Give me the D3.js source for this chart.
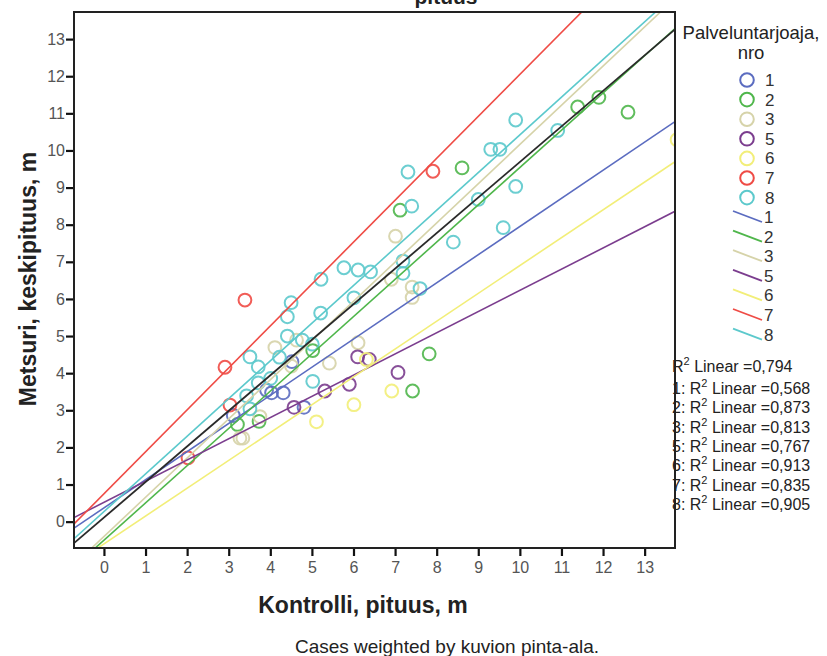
<!DOCTYPE html>
<html>
<head>
<meta charset="utf-8">
<script src="https://cdn.jsdelivr.net/npm/d3@7"></script>
<style>
  body { margin: 0; background: #fff; }
  svg { display: block; font-family: "Liberation Sans", Arial, sans-serif; }
</style>
</head>
<body>
<div id="main-container"></div>
<script>
// groups (Palveluntarjoaja, nro) and their colours
var groups = ["1", "2", "3", "5", "6", "7", "8"];
var colors = ["#5b6cc0", "#4fb64b", "#d6d3a9", "#7b3d8e", "#f2ee78", "#ef4b45", "#5cc9cc"];

// observed points: Kontrolli (x) and Metsuri (y) per group
var kontrolli = {
    "1": [4.52, 3.91, 4.03, 4.31, 3.11, 4.81],
    "2": [11.39, 11.90, 12.60, 8.61, 7.12, 5.02, 7.82, 7.42, 3.21, 3.73],
    "3": [7.01, 6.91, 7.41, 7.41, 6.11, 4.11, 4.63, 5.42, 4.51, 3.27, 3.34, 3.75],
    "5": [6.10, 6.38, 7.07, 5.90, 5.31, 4.57],
    "6": [6.01, 6.92, 5.11, 6.31, 13.78],
    "7": [3.39, 2.91, 3.03, 2.02, 7.91],
    "8": [9.90, 9.30, 9.52, 10.91, 7.31, 7.40, 9.90, 9.00, 9.60, 8.40, 7.19, 7.19, 7.60,
          5.77, 6.11, 6.41, 5.22, 6.01, 4.50, 4.41, 5.21, 4.41, 4.77, 5.01, 3.51, 3.71,
          4.22, 4.01, 3.71, 3.43, 3.51, 5.02]
};
var metsuri = {
    "1": [4.31, 3.54, 3.47, 3.47, 2.86, 3.08],
    "2": [11.17, 11.43, 11.03, 9.53, 8.39, 4.61, 4.52, 3.52, 2.62, 2.70],
    "3": [7.69, 6.53, 6.32, 6.04, 4.82, 4.69, 4.89, 4.27, 4.19, 2.25, 2.25, 2.83],
    "5": [4.44, 4.37, 4.02, 3.70, 3.52, 3.08],
    "6": [3.15, 3.52, 2.69, 4.37, 10.29],
    "7": [5.97, 4.16, 3.14, 1.72, 9.44],
    "8": [10.82, 10.03, 10.03, 10.54, 9.42, 8.50, 9.03, 8.68, 7.92, 7.53, 7.02, 6.69, 6.28,
          6.84, 6.78, 6.73, 6.53, 6.03, 5.90, 5.52, 5.62, 5.00, 4.89, 4.78, 4.44, 4.17,
          4.43, 3.86, 3.74, 3.39, 3.04, 3.78]
};

// linear fits (intercept, slope)
var fitIntercept = [0.37, -0.50, -0.40, 0.52, -0.60, 0.75, 0.27];
var fitSlope     = [0.758, 1.004, 1.056, 0.571, 0.750, 1.13, 1.015];
var totalFit = { intercept: 0.11, slope: 0.958, r2: "0,794" };
var r2Values = ["0,568", "0,873", "0,813", "0,767", "0,913", "0,835", "0,905"];

var xTicks = d3.range(0, 14);
var yTicks = d3.range(0, 14);

var width = 827, height = 656;
var plot = { left: 74, right: 675, top: 12, bottom: 548 };

var svg = d3.select("#main-container").append("svg")
    .attr("width", width)
    .attr("height", height);

var x = d3.scaleLinear().domain([-0.72, 13.73]).range([plot.left, plot.right]);
var y = d3.scaleLinear().domain([-0.71, 13.73]).range([plot.bottom, plot.top]);

svg.append("clipPath").attr("id", "plotclip")
    .append("rect")
    .attr("x", plot.left).attr("y", plot.top)
    .attr("width", plot.right - plot.left).attr("height", plot.bottom - plot.top);

// title, cut off at the top as in the original
svg.append("text")
    .attr("x", 446).attr("y", 4)
    .attr("text-anchor", "middle")
    .attr("font-size", "21px").attr("font-weight", "bold")
    .attr("fill", "#222")
    .text("pituus");

var body = svg.append("g").attr("clip-path", "url(#plotclip)");

// points
groups.forEach(function(g, i) {
    var pts = kontrolli[g].map(function(v, j) { return [v, metsuri[g][j]]; });
    body.selectAll("circle.g" + g)
        .data(pts)
        .enter()
        .append("circle")
        .attr("class", "g" + g)
        .attr("cx", function(d) { return x(d[0]); })
        .attr("cy", function(d) { return y(d[1]); })
        .attr("r", 6.4)
        .attr("fill", "none")
        .attr("stroke", colors[i])
        .attr("stroke-width", 2)
        .attr("stroke-opacity", 0.9);
});

// fit lines
var xd = x.domain();
groups.forEach(function(g, i) {
    body.append("line")
        .attr("x1", x(xd[0])).attr("y1", y(fitIntercept[i] + fitSlope[i] * xd[0]))
        .attr("x2", x(xd[1])).attr("y2", y(fitIntercept[i] + fitSlope[i] * xd[1]))
        .attr("stroke", colors[i])
        .attr("stroke-width", 1.6);
});
body.append("line")
    .attr("x1", x(xd[0])).attr("y1", y(totalFit.intercept + totalFit.slope * xd[0]))
    .attr("x2", x(xd[1])).attr("y2", y(totalFit.intercept + totalFit.slope * xd[1]))
    .attr("stroke", "#2a2a2a")
    .attr("stroke-width", 1.8);

// axes
var xAxis = svg.append("g")
    .attr("transform", "translate(0," + plot.bottom + ")")
    .call(d3.axisBottom(x).tickValues(xTicks).tickSize(8).tickPadding(6));
var yAxis = svg.append("g")
    .attr("transform", "translate(" + plot.left + ",0)")
    .call(d3.axisLeft(y).tickValues(yTicks).tickSize(8).tickPadding(1));
[xAxis, yAxis].forEach(function(a) {
    a.select(".domain").remove();
    a.selectAll(".tick line").attr("stroke", "#111").attr("stroke-width", 2.2);
    a.selectAll(".tick text")
        .attr("font-size", "16px")
        .attr("fill", "#555")
        .attr("font-family", "Liberation Sans, Arial, sans-serif");
});

// frame
svg.append("rect")
    .attr("x", plot.left).attr("y", plot.top)
    .attr("width", plot.right - plot.left).attr("height", plot.bottom - plot.top)
    .attr("fill", "none")
    .attr("stroke", "#222")
    .attr("stroke-width", 2);

// axis titles
svg.append("text")
    .attr("x", 363).attr("y", 613)
    .attr("text-anchor", "middle")
    .attr("font-size", "23px").attr("font-weight", "bold")
    .attr("fill", "#222")
    .text("Kontrolli, pituus, m");
svg.append("text")
    .attr("transform", "translate(36,279) rotate(-90)")
    .attr("text-anchor", "middle")
    .attr("font-size", "23px").attr("font-weight", "bold")
    .attr("fill", "#222")
    .text("Metsuri, keskipituus, m");

svg.append("text")
    .attr("x", 447).attr("y", 653)
    .attr("text-anchor", "middle")
    .attr("font-size", "19px")
    .attr("fill", "#222")
    .text("Cases weighted by kuvion pinta-ala.");

// legend
var legend = svg.append("g");
legend.append("text")
    .attr("x", 751).attr("y", 39)
    .attr("text-anchor", "middle")
    .attr("font-size", "18.5px").attr("fill", "#222")
    .text("Palveluntarjoaja,");
legend.append("text")
    .attr("x", 751).attr("y", 59)
    .attr("text-anchor", "middle")
    .attr("font-size", "18.5px").attr("fill", "#222")
    .text("nro");

groups.forEach(function(g, i) {
    var cy = 80 + i * 19.6;
    legend.append("circle")
        .attr("cx", 747).attr("cy", cy).attr("r", 6.8)
        .attr("fill", "none").attr("stroke", colors[i]).attr("stroke-width", 2);
    legend.append("text")
        .attr("x", 765).attr("y", cy + 6)
        .attr("font-size", "17px").attr("fill", "#333")
        .text(g);
});
groups.forEach(function(g, i) {
    var cy = 217 + i * 19.6;
    legend.append("line")
        .attr("x1", 733).attr("y1", cy - 6)
        .attr("x2", 762).attr("y2", cy + 5)
        .attr("stroke", colors[i]).attr("stroke-width", 1.8);
    legend.append("text")
        .attr("x", 764).attr("y", cy + 6)
        .attr("font-size", "17px").attr("fill", "#333")
        .text(g);
});

// R2 notes
function r2Line(yPos, prefix, val) {
    var t = legend.append("text")
        .attr("x", 672).attr("y", yPos)
        .attr("font-size", "16px").attr("fill", "#222");
    t.append("tspan").text(prefix + "R");
    t.append("tspan").attr("font-size", "11px").attr("dy", -7).text("2");
    t.append("tspan").attr("dy", 7).text(" Linear =" + val);
}
r2Line(372, "", totalFit.r2);
groups.forEach(function(g, i) {
    r2Line(394 + i * 19.3, g + ": ", r2Values[i]);
});
</script>
</body>
</html>
